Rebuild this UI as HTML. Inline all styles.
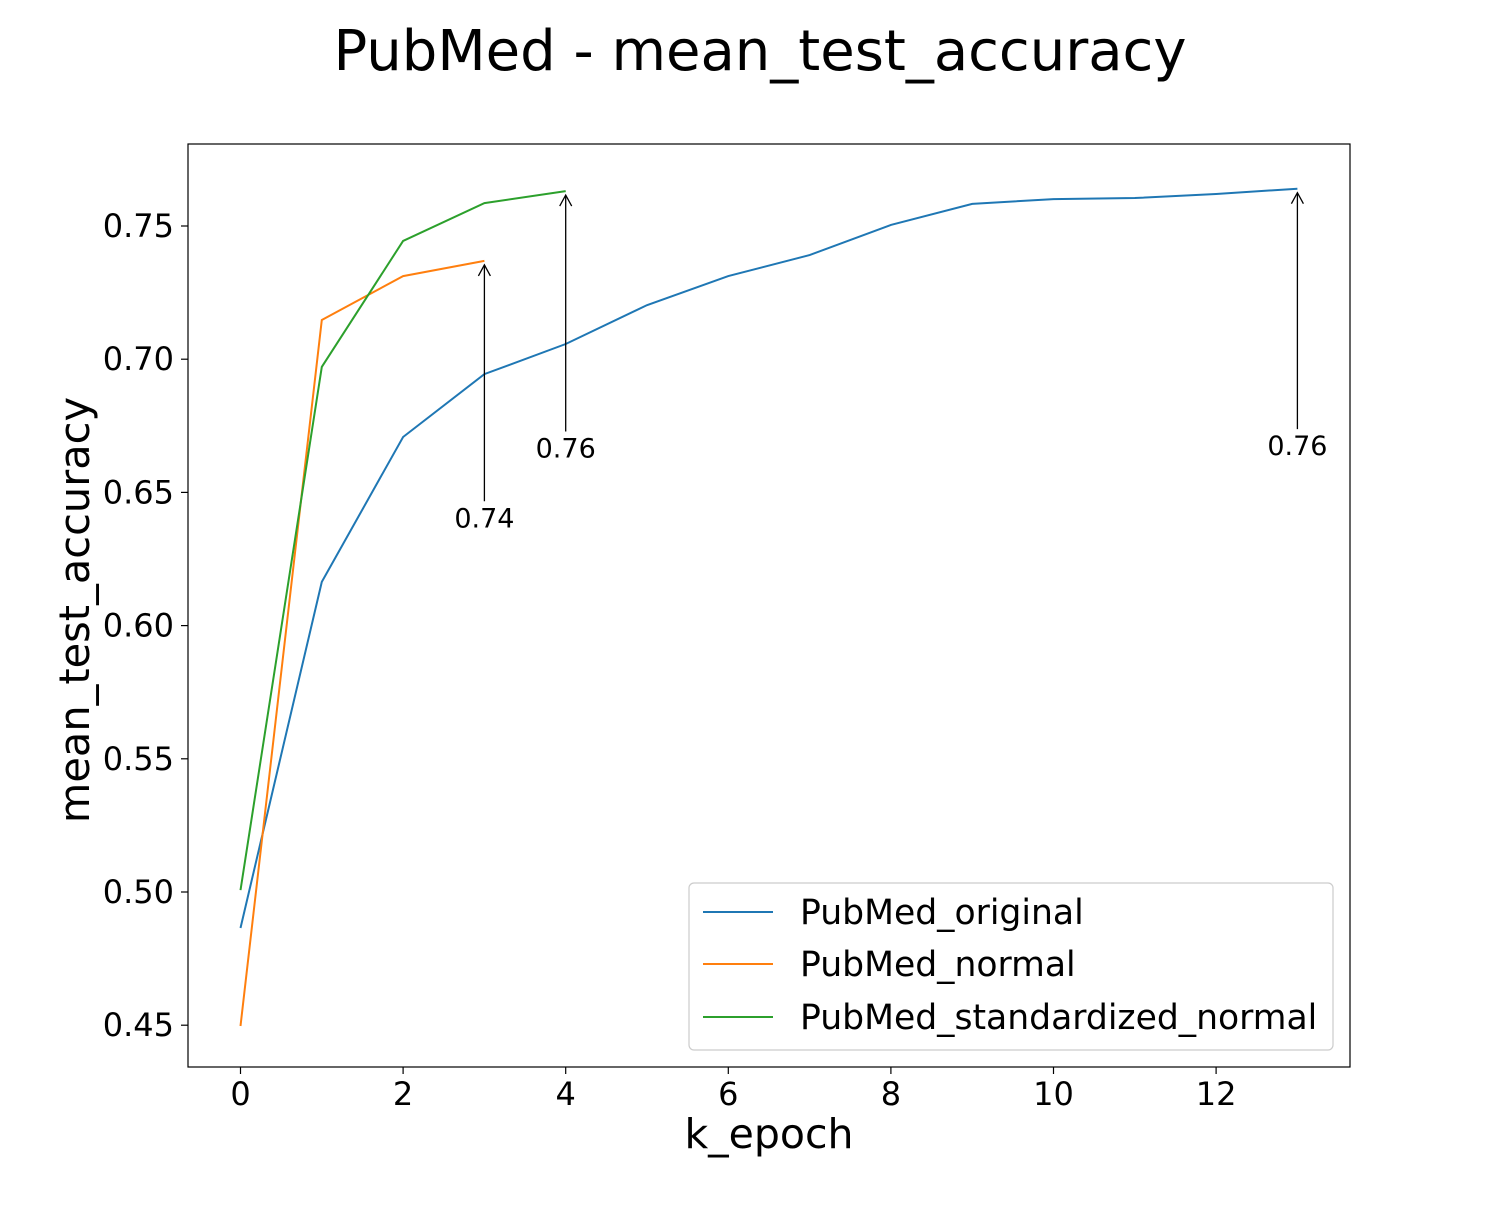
<!DOCTYPE html>
<html><head><meta charset="utf-8"><style>
body{margin:0;background:#fff;}
svg text{font-family:"DejaVu Sans","Liberation Sans",sans-serif;}
</style></head><body>
<svg id="chart" width="1500" height="1200" xmlns="http://www.w3.org/2000/svg">
<rect width="1500" height="1200" fill="#fff"/>
<text x="760" y="70" font-size="56" text-anchor="middle">PubMed - mean_test_accuracy</text>
<g id="grid"></g>
<rect x="188" y="144" width="1162" height="923" fill="none" stroke="#000" stroke-width="1.2"/>
<text x="769" y="1148" font-size="41" text-anchor="middle">k_epoch</text>
<text transform="translate(89,610) rotate(-90)" font-size="41.5" text-anchor="middle">mean_test_accuracy</text>
<g id="series"></g>
<g id="annots"></g>
<g>
<rect x="689" y="883" width="644" height="167" rx="5" fill="#fff" stroke="#ccc" stroke-width="1.2"/>
<line x1="703" y1="912" x2="773" y2="912" stroke="#1f77b4" stroke-width="2"/>
<text x="800" y="924" font-size="34.6">PubMed_original</text>
<line x1="703" y1="964" x2="773" y2="964" stroke="#ff7f0e" stroke-width="2"/>
<text x="800" y="976" font-size="34.6">PubMed_normal</text>
<line x1="703" y1="1017" x2="773" y2="1017" stroke="#2ca02c" stroke-width="2"/>
<text x="800" y="1029" font-size="34.6">PubMed_standardized_normal</text>
</g>
</svg>
<script>
const xTicks=[0,2,4,6,8,10,12];
const yTicks=[0.45,0.50,0.55,0.60,0.65,0.70,0.75];
const originalVals=[0.4865,0.6164,0.6708,0.6944,0.7057,0.7203,0.7312,0.7391,0.7504,0.7583,0.7601,0.7605,0.762,0.764];
const normalVals=[0.4497,0.7147,0.7312,0.7369];
const stdVals=[0.5007,0.6971,0.7444,0.7586,0.7631];
const NS="http://www.w3.org/2000/svg";
function X(v){return 240.5+v*81.3;}
function Y(v){return 226+(0.75-v)/0.05*133.2;}
function mk(t,a,p){const e=document.createElementNS(NS,t);for(const k in a)e.setAttribute(k,a[k]);p.appendChild(e);return e;}
const g=document.getElementById('grid');
xTicks.forEach(t=>{
 const l=mk('line',{x1:X(t),x2:X(t),y1:1067,y2:1074,stroke:'#000','stroke-width':1.2},g);
 
 
 const s=mk('text',{x:X(t),y:1105,'font-size':32,'text-anchor':'middle'},g);s.textContent=t;
 
 
});
yTicks.forEach(t=>{
 const l=mk('line',{x1:181,x2:188,y1:Y(t),y2:Y(t),stroke:'#000','stroke-width':1.2},g);
 
 
 const s=mk('text',{x:174,y:Y(t)+11,'font-size':32,'text-anchor':'end'},g);s.textContent=t.toFixed(2);
 
 
});
const sg=document.getElementById('series');
const ag=document.getElementById('annots');
[[originalVals,'#1f77b4','line-original'],[normalVals,'#ff7f0e','line-normal'],[stdVals,'#2ca02c','line-standardized-normal']].forEach(([vals,c,n])=>{
 const p=mk('polyline',{points:vals.map((v,i)=>X(i)+','+Y(v)).join(' '),fill:'none',stroke:c,'stroke-width':2},sg);
 
 
});
[[normalVals],[stdVals],[originalVals]].forEach(([vals])=>{
 const i=vals.length-1,v=vals[i],x=X(i),ty=Y(v-0.1);
 const l=mk('line',{x1:x,x2:x,y1:ty-26,y2:Y(v)+4,stroke:'#000','stroke-width':1.3},ag);
 
 
 mk('polyline',{points:(x-6)+','+(Y(v)+15)+' '+x+','+(Y(v)+4)+' '+(x+6)+','+(Y(v)+15),fill:'none',stroke:'#000','stroke-width':1.3},ag);
 const t=mk('text',{x:x,y:ty,'font-size':27,'text-anchor':'middle'},ag);
 t.textContent=v.toFixed(2);
 
 
});
</script>
</body></html>
